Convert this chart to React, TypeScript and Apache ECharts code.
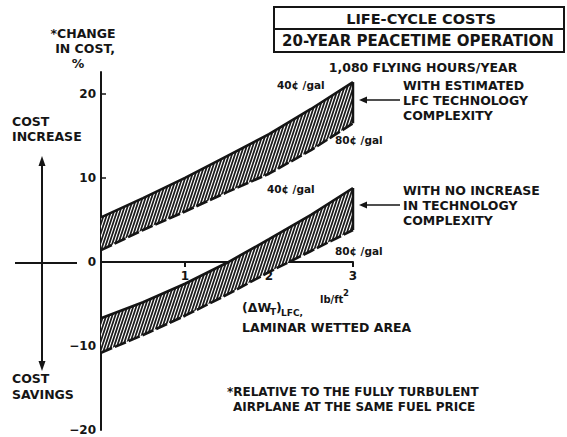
import React, { useEffect, useRef } from "react";
import * as echarts from "echarts";

// ---- data ----
const xs = [0, 0.5, 1, 1.5, 2, 2.5, 3];
const upper40 = [5.3, 7.6, 10.0, 12.6, 15.2, 18.2, 21.4]; // with LFC complexity, 40c/gal
const upper80 = [1.4, 3.8, 6.0, 8.3, 10.5, 13.3, 16.5]; // with LFC complexity, 80c/gal
const lower40 = [-6.7, -4.8, -2.6, -0.1, 2.7, 5.6, 8.8]; // no increase, 40c/gal
const lower80 = [-10.8, -8.7, -6.4, -3.9, -1.2, 1.3, 3.8]; // no increase, 80c/gal
const yTickLabels = [-20, -10, 0, 10, 20];
const yTicks = [-10, 10, 20];
const xTicks = [1, 2, 3];
const Y_MIN = -20;
const Y_MAX = 22.6;

const INK = "#151515";
const F = '"DejaVu Sans", "Liberation Sans", sans-serif';

const GRID_TOP = 72;
const GRID_BOTTOM = 7;
const GRID_LEFT = 101;
const GRID_RIGHT = 214;
const H = 437;

function makeHatch() {
  const c = document.createElement("canvas");
  c.width = 3;
  c.height = 9;
  const g = c.getContext("2d")!;
  g.fillStyle = "#1a1a1a";
  g.fillRect(0, 0, 3, 9);
  g.strokeStyle = "#ffffff";
  g.lineWidth = 1.15;
  for (const dx of [-3, 0, 3]) {
    g.beginPath();
    g.moveTo(dx, 9);
    g.lineTo(dx + 3, 0);
    g.stroke();
  }
  return c;
}

function txt(x: number, y: number, text: string, size: number, opts: any = {}) {
  return {
    type: "text",
    x,
    y,
    silent: true,
    style: {
      text,
      font: `bold ${size}px ${F}`,
      fill: INK,
      align: opts.align || "left",
      verticalAlign: "middle",
      lineHeight: opts.lineHeight || size * 1.2,
    },
  };
}

export default function App() {
  const ref = useRef<HTMLDivElement>(null);
  useEffect(() => {
    if (!ref.current) return;
    const chart = echarts.init(ref.current, null, { renderer: "svg" });
    const hatch = { image: makeHatch(), repeat: "repeat", imageWidth: 3, imageHeight: 9 };
    const band = (top: number[], bot: number[]) => ({
      type: "custom",
      coordinateSystem: "cartesian2d",
      xAxisIndex: 0,
      yAxisIndex: 0,
      silent: true,
      data: [[0, 0]],
      renderItem: (_p: any, api: any) => {
        const pts: number[][] = [];
        for (let i = 0; i < xs.length; i++) pts.push(api.coord([xs[i], top[i]]));
        for (let i = xs.length - 1; i >= 0; i--) pts.push(api.coord([xs[i], bot[i]]));
        const n = xs.length - 1;
        const a = api.coord([xs[n], top[n]]);
        const b = api.coord([xs[n], bot[n]]);
        return {
          type: "group",
          children: [
            { type: "polygon", shape: { points: pts }, style: { fill: hatch, stroke: null } },
            {
              type: "line",
              shape: { x1: a[0], y1: a[1], x2: b[0], y2: b[1] },
              style: { stroke: INK, lineWidth: 2.5 },
            },
          ],
        };
      },
    });
    const edge = (vals: number[], dashed: boolean) => ({
      type: "line",
      xAxisIndex: 0,
      yAxisIndex: 0,
      silent: true,
      showSymbol: false,
      data: xs.map((x, i) => [x, vals[i]]),
      lineStyle: { color: INK, width: 2.6, type: dashed ? [12, 3] : "solid" },
    });

    const arrowHead = (x: number, y: number) => ({
      type: "polygon",
      silent: true,
      shape: { points: [[x, y], [x + 8, y - 3.5], [x + 8, y + 3.5]] },
      style: { fill: INK },
    });

    // second grid whose bottom edge sits on the value 0 of the main y axis
    const plotH = H - GRID_TOP - GRID_BOTTOM;
    const zeroY = GRID_TOP + (plotH * Y_MAX) / (Y_MAX - Y_MIN);

    chart.setOption({
      animation: false,
      backgroundColor: "#ffffff",
      grid: [
        { left: GRID_LEFT, right: GRID_RIGHT, top: GRID_TOP, bottom: GRID_BOTTOM },
        { left: GRID_LEFT, right: GRID_RIGHT, top: GRID_TOP, bottom: H - zeroY },
      ],
      xAxis: [
        { type: "value", gridIndex: 0, min: 0, max: 3, show: false },
        {
          type: "value",
          gridIndex: 1,
          min: 0,
          max: 3,
          interval: 1,
          position: "bottom",
          splitLine: { show: false },
          axisLine: { onZero: false, lineStyle: { color: INK, width: 2 } },
          axisTick: { customValues: xTicks, length: 5, lineStyle: { color: INK, width: 2 } },
          axisLabel: {
            customValues: xTicks,
            margin: 8,
            color: INK,
            fontFamily: F,
            fontWeight: "bold",
            fontSize: 12,
          },
        },
      ],
      yAxis: [
        {
          type: "value",
          gridIndex: 0,
          min: Y_MIN,
          max: Y_MAX,
          interval: 10,
          splitLine: { show: false },
          axisLine: { onZero: false, lineStyle: { color: INK, width: 2 } },
          axisTick: {
            inside: true,
            customValues: yTicks,
            length: 5,
            lineStyle: { color: INK, width: 1.5 },
          },
          axisLabel: {
            customValues: yTickLabels,
            margin: 5,
            color: INK,
            fontFamily: F,
            fontWeight: "bold",
            fontSize: 12,
            formatter: (v: number) => (v % 10 === 0 ? String(v).replace("-", "\u2212") : ""),
          },
        },
        { type: "value", gridIndex: 1, min: 0, max: 1, show: false },
      ],
      series: [
        band(upper40, upper80),
        band(lower40, lower80),
        edge(upper40, false),
        edge(upper80, true),
        edge(lower40, false),
        edge(lower80, true),
      ],
      graphic: [
        // title box
        {
          type: "rect",
          silent: true,
          shape: { x: 274, y: 7, width: 290, height: 45 },
          style: { fill: "none", stroke: INK, lineWidth: 2 },
        },
        {
          type: "line",
          silent: true,
          shape: { x1: 274, y1: 29, x2: 564, y2: 29 },
          style: { stroke: INK, lineWidth: 2 },
        },
        txt(421, 19, "LIFE-CYCLE COSTS", 14.5, { align: "center" }),
        txt(418, 41, "20-YEAR PEACETIME OPERATION", 15, { align: "center" }),
        txt(423, 67, "1,080 FLYING HOURS/YEAR", 12.5, { align: "center" }),
        // y axis title
        txt(83, 33, "*CHANGE", 12.5, { align: "center" }),
        txt(85, 48, "IN COST,", 12.5, { align: "center" }),
        txt(78, 63, "%", 12.5, { align: "center" }),
        // cost increase / savings diagram
        txt(12, 129, "COST\nINCREASE", 12.5, { lineHeight: 15 }),
        txt(12, 386, "COST\nSAVINGS", 12.5, { lineHeight: 16 }),
        {
          type: "line",
          silent: true,
          shape: { x1: 42, y1: 164, x2: 42, y2: 363 },
          style: { stroke: INK, lineWidth: 2 },
        },
        {
          type: "polygon",
          silent: true,
          shape: { points: [[42, 156], [38.5, 166], [45.5, 166]] },
          style: { fill: INK },
        },
        {
          type: "polygon",
          silent: true,
          shape: { points: [[42, 371], [38.5, 361], [45.5, 361]] },
          style: { fill: INK },
        },
        {
          type: "line",
          silent: true,
          shape: { x1: 15, y1: 263, x2: 77, y2: 263 },
          style: { stroke: INK, lineWidth: 2 },
        },
        // price labels
        txt(277, 85, "40\u00a2 /gal", 10.5),
        txt(335, 140, "80\u00a2 /gal", 10.5),
        txt(267, 189, "40\u00a2 /gal", 10.5),
        txt(335, 251, "80\u00a2 /gal", 10.5),
        // band captions with arrows
        {
          type: "line",
          silent: true,
          shape: { x1: 362, y1: 100, x2: 400, y2: 100 },
          style: { stroke: INK, lineWidth: 1.6 },
        },
        arrowHead(359, 100),
        txt(403, 100, "WITH ESTIMATED\nLFC TECHNOLOGY\nCOMPLEXITY", 12.5, { lineHeight: 15 }),
        {
          type: "line",
          silent: true,
          shape: { x1: 362, y1: 205, x2: 400, y2: 205 },
          style: { stroke: INK, lineWidth: 1.6 },
        },
        arrowHead(359, 205),
        txt(403, 205, "WITH NO INCREASE\nIN TECHNOLOGY\nCOMPLEXITY", 12.5, { lineHeight: 15 }),
        // x axis title
        txt(242, 307, "(\u0394W", 12.5),
        txt(270, 312, "T", 9),
        txt(276, 307, ")", 12.5),
        txt(281, 313, "LFC,", 9),
        txt(320, 299, "lb/ft", 10),
        txt(343, 293, "2", 8.5),
        txt(242, 327, "LAMINAR WETTED AREA", 12.5),
        // footnote
        txt(227, 392, "*RELATIVE TO THE FULLY TURBULENT", 12),
        txt(233, 407, "AIRPLANE AT THE SAME FUEL PRICE", 12),
      ],
    });
    return () => chart.dispose();
  }, []);
  return (
    <div
      ref={ref}
      style={{ position: "fixed", left: 0, top: 0, width: 567, height: 437, background: "#fff" }}
    />
  );
}
